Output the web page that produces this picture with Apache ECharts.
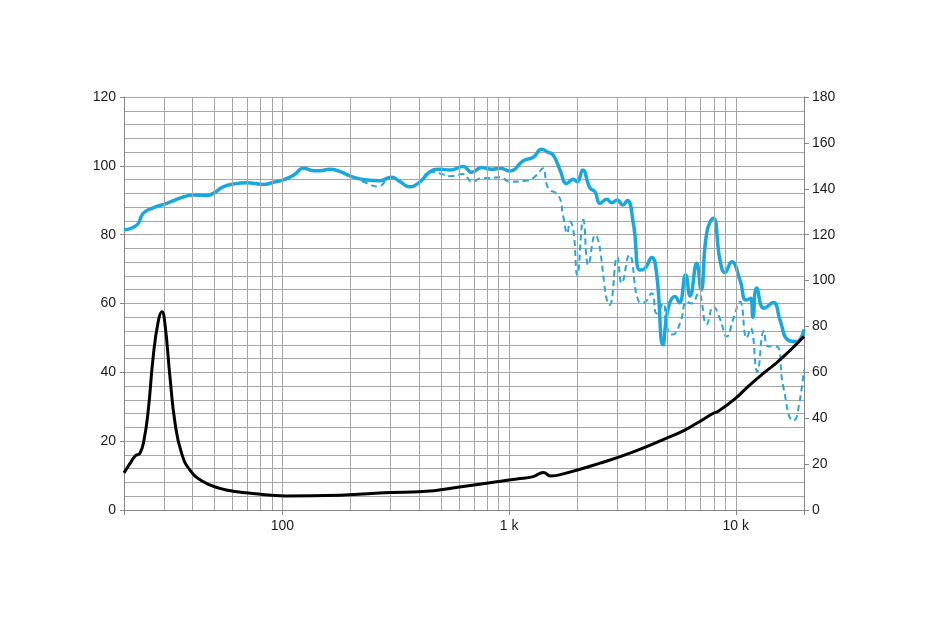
<!DOCTYPE html>
<html>
<head>
<meta charset="utf-8">
<script src="https://cdn.jsdelivr.net/npm/echarts@6/dist/echarts.min.js"></script>
<style>
html,body{margin:0;padding:0;background:#fff;}
#chart{width:931px;height:624px;}
</style>
</head>
<body>
<div id="chart"></div>
<script>
// On-axis SPL (solid blue)
const splFreq = [20,22.8,24.3,26.9,30.9,35.3,40.4,46.3,49.5,54.8,60.7,69.5,82.3,91.1,101,112,124,137,146,162,180,205,235,269,303,330,365,405,448,496,549,628,684,757,838,912,1009,1155,1278,1392,1480,1567,1677,1795,1920,1999,2112,2275,2393,2518,2696,2836,3002,3170,3322,3532,3780,3976,4256,4478,4770,5038,5394,5635,6013,6282,6726,7026,7444,7960,8522,8964,9594,10436,11093,11634,11900,12366,13320,14638,15670,17000,18574,20000];
const splDb = [81.4,82.8,86.2,87.8,89.1,90.6,91.5,91.4,92.0,93.9,94.7,95.1,94.6,95.2,95.9,97.3,99.3,98.6,98.6,99.0,98.3,96.7,95.9,95.7,96.7,95.4,93.9,95.4,98.3,99.0,98.8,99.8,98.1,99.5,99.0,99.3,98.5,101.5,102.5,104.8,104.0,103.1,98.8,94.9,96.1,95.4,98.8,93.5,92.5,89.1,90.3,89.3,90.1,88.6,89.9,83.3,69.7,70.2,73.4,68.5,48.0,58.8,62.0,60.2,68.3,62.2,71.7,64.0,80.5,84.8,72.6,69.0,72.1,66.8,61.0,61.5,56.0,64.5,58.6,60.3,55.2,49.4,48.9,52.5];

// Off-axis SPL (dashed blue)
const offFreq = [20,22.8,24.3,26.9,30.9,35.3,40.4,46.3,49.5,54.8,60.7,69.5,82.3,91.1,101,112,124,137,146,162,180,205,235,264,300,330,365,405,448,496,549,628,684,757,838,912,1009,1196,1323,1407,1489,1648,1734,1806,1856,1920,1999,2125,2236,2393,2777,3002,3138,3390,3740,3908,4256,4478,4789,4957,5269,5675,6074,6392,6836,7444,7960,8522,9120,9750,10436,11172,11634,12440,13320,13914,15100,16204,17944,18574,20000];
const offDb = [81.4,82.8,86.2,87.8,89.1,90.6,91.5,91.4,92.0,93.9,94.7,95.1,94.6,95.2,95.9,97.3,99.3,98.6,98.6,99.0,98.3,96.7,95.0,94.0,96.5,95.4,93.9,95.4,98.3,97.8,97.0,97.6,95.4,96.4,96.5,96.7,95.4,95.7,97.3,99.3,93.5,91.5,85.2,80.4,83.8,81.4,68.3,84.3,71.2,79.9,59.6,73.6,65.9,74.1,60.5,60.2,63.0,57.1,60.0,53.3,51.0,54.2,60.5,60.0,63.0,54.0,59.1,55.5,50.4,55.5,60.5,50.0,52.8,40.2,52.0,47.5,47.5,35.8,26.0,27.0,40.7];

// Impedance (black)
const impFreq = [20,21.3,22.4,23.5,24.5,25.6,26.9,28.3,29.4,30.3,31.9,33.6,35.9,39.1,44.8,53,63,74,103,180,300,400,650,1000,1080,1278,1416,1524,1734,2518,3532,4957,5870,6726,7960,8375,10000,11172,13224,15670,20000];
const impOhm = [10.8,13.6,15.7,16.5,20.3,29.1,44.5,54.7,57.6,54.2,38.7,25.2,16.5,11.6,8.2,6.3,5.3,4.8,4.1,4.3,5.1,5.3,7.0,8.7,9.0,9.7,10.9,9.9,10.5,13.6,16.9,20.9,23.0,25.2,28.1,28.7,32.5,35.5,39.7,43.6,50.4];

// Axis ticks / gridlines
const gridFreqs = [30,40,50,60,70,80,90,100,200,300,400,500,600,700,800,900,1000,2000,3000,4000,5000,6000,7000,8000,9000,10000];
const xTickLabels = {100:'100', 1000:'1 k', 10000:'10 k'};
const leftTicks = [0,120,20];
const rightTicks = [0,180,20];

const pair = (xs, ys) => xs.map((x,i)=>[x, ys[i]]);
const gridColor = '#a6a6a6';
const axisColor = '#868686';
const font = {fontFamily:'Liberation Sans, Arial, sans-serif', fontSize:14, color:'#1a1a1a'};

const chart = echarts.init(document.getElementById('chart'), null, {renderer:'canvas'});
chart.setOption({
  animation:false,
  backgroundColor:'#ffffff',
  grid:{left:124, right:127, top:97, bottom:114, containLabel:false},
  xAxis:{
    type:'log', logBase:10, min:20, max:20000,
    axisLine:{show:true, lineStyle:{color:axisColor, width:1}},
    axisTick:{show:true, length:5, lineStyle:{color:axisColor}},
    axisLabel:Object.assign({margin:9, formatter:(v)=>xTickLabels[Math.round(v)]||''}, font),
    splitLine:{show:false}
  },
  yAxis:[
    {type:'value', position:'left', min:leftTicks[0], max:leftTicks[1], interval:leftTicks[2],
     axisLine:{show:true, lineStyle:{color:axisColor}},
     axisTick:{show:true, length:4, lineStyle:{color:axisColor}},
     axisLabel:Object.assign({margin:8}, font),
     splitLine:{show:true, lineStyle:{color:gridColor, width:1}},
     minorTick:{show:false, splitNumber:5},
     minorSplitLine:{show:true, lineStyle:{color:gridColor, width:1}}},
    {type:'value', position:'right', min:rightTicks[0], max:rightTicks[1], interval:rightTicks[2],
     axisLine:{show:true, lineStyle:{color:axisColor}},
     axisTick:{show:true, length:5, lineStyle:{color:axisColor}},
     axisLabel:Object.assign({margin:8}, font),
     splitLine:{show:false}}
  ],
  series:[
    {type:'line', data:[], z:1, silent:true,
     markLine:{silent:true, symbol:['none','none'], label:{show:false}, animation:false,
       lineStyle:{color:gridColor, width:1, type:'solid'},
       emphasis:{disabled:true},
       data:gridFreqs.map(f=>({xAxis:f}))}},
    {type:'line', name:'off', data:pair(offFreq, offDb), yAxisIndex:0, z:3,
     showSymbol:false, smooth:0.5,
     lineStyle:{color:'#27a6d8', width:2, type:[6,4]}},
    {type:'line', name:'spl', data:pair(splFreq, splDb), yAxisIndex:0, z:4,
     showSymbol:false, smooth:0.5,
     lineStyle:{color:'#19a8de', width:3.5}},
    {type:'line', name:'imp', data:pair(impFreq, impOhm), yAxisIndex:0, z:5,
     showSymbol:false, smooth:0.5,
     lineStyle:{color:'#000000', width:3}}
  ]
});
</script>
</body>
</html>
